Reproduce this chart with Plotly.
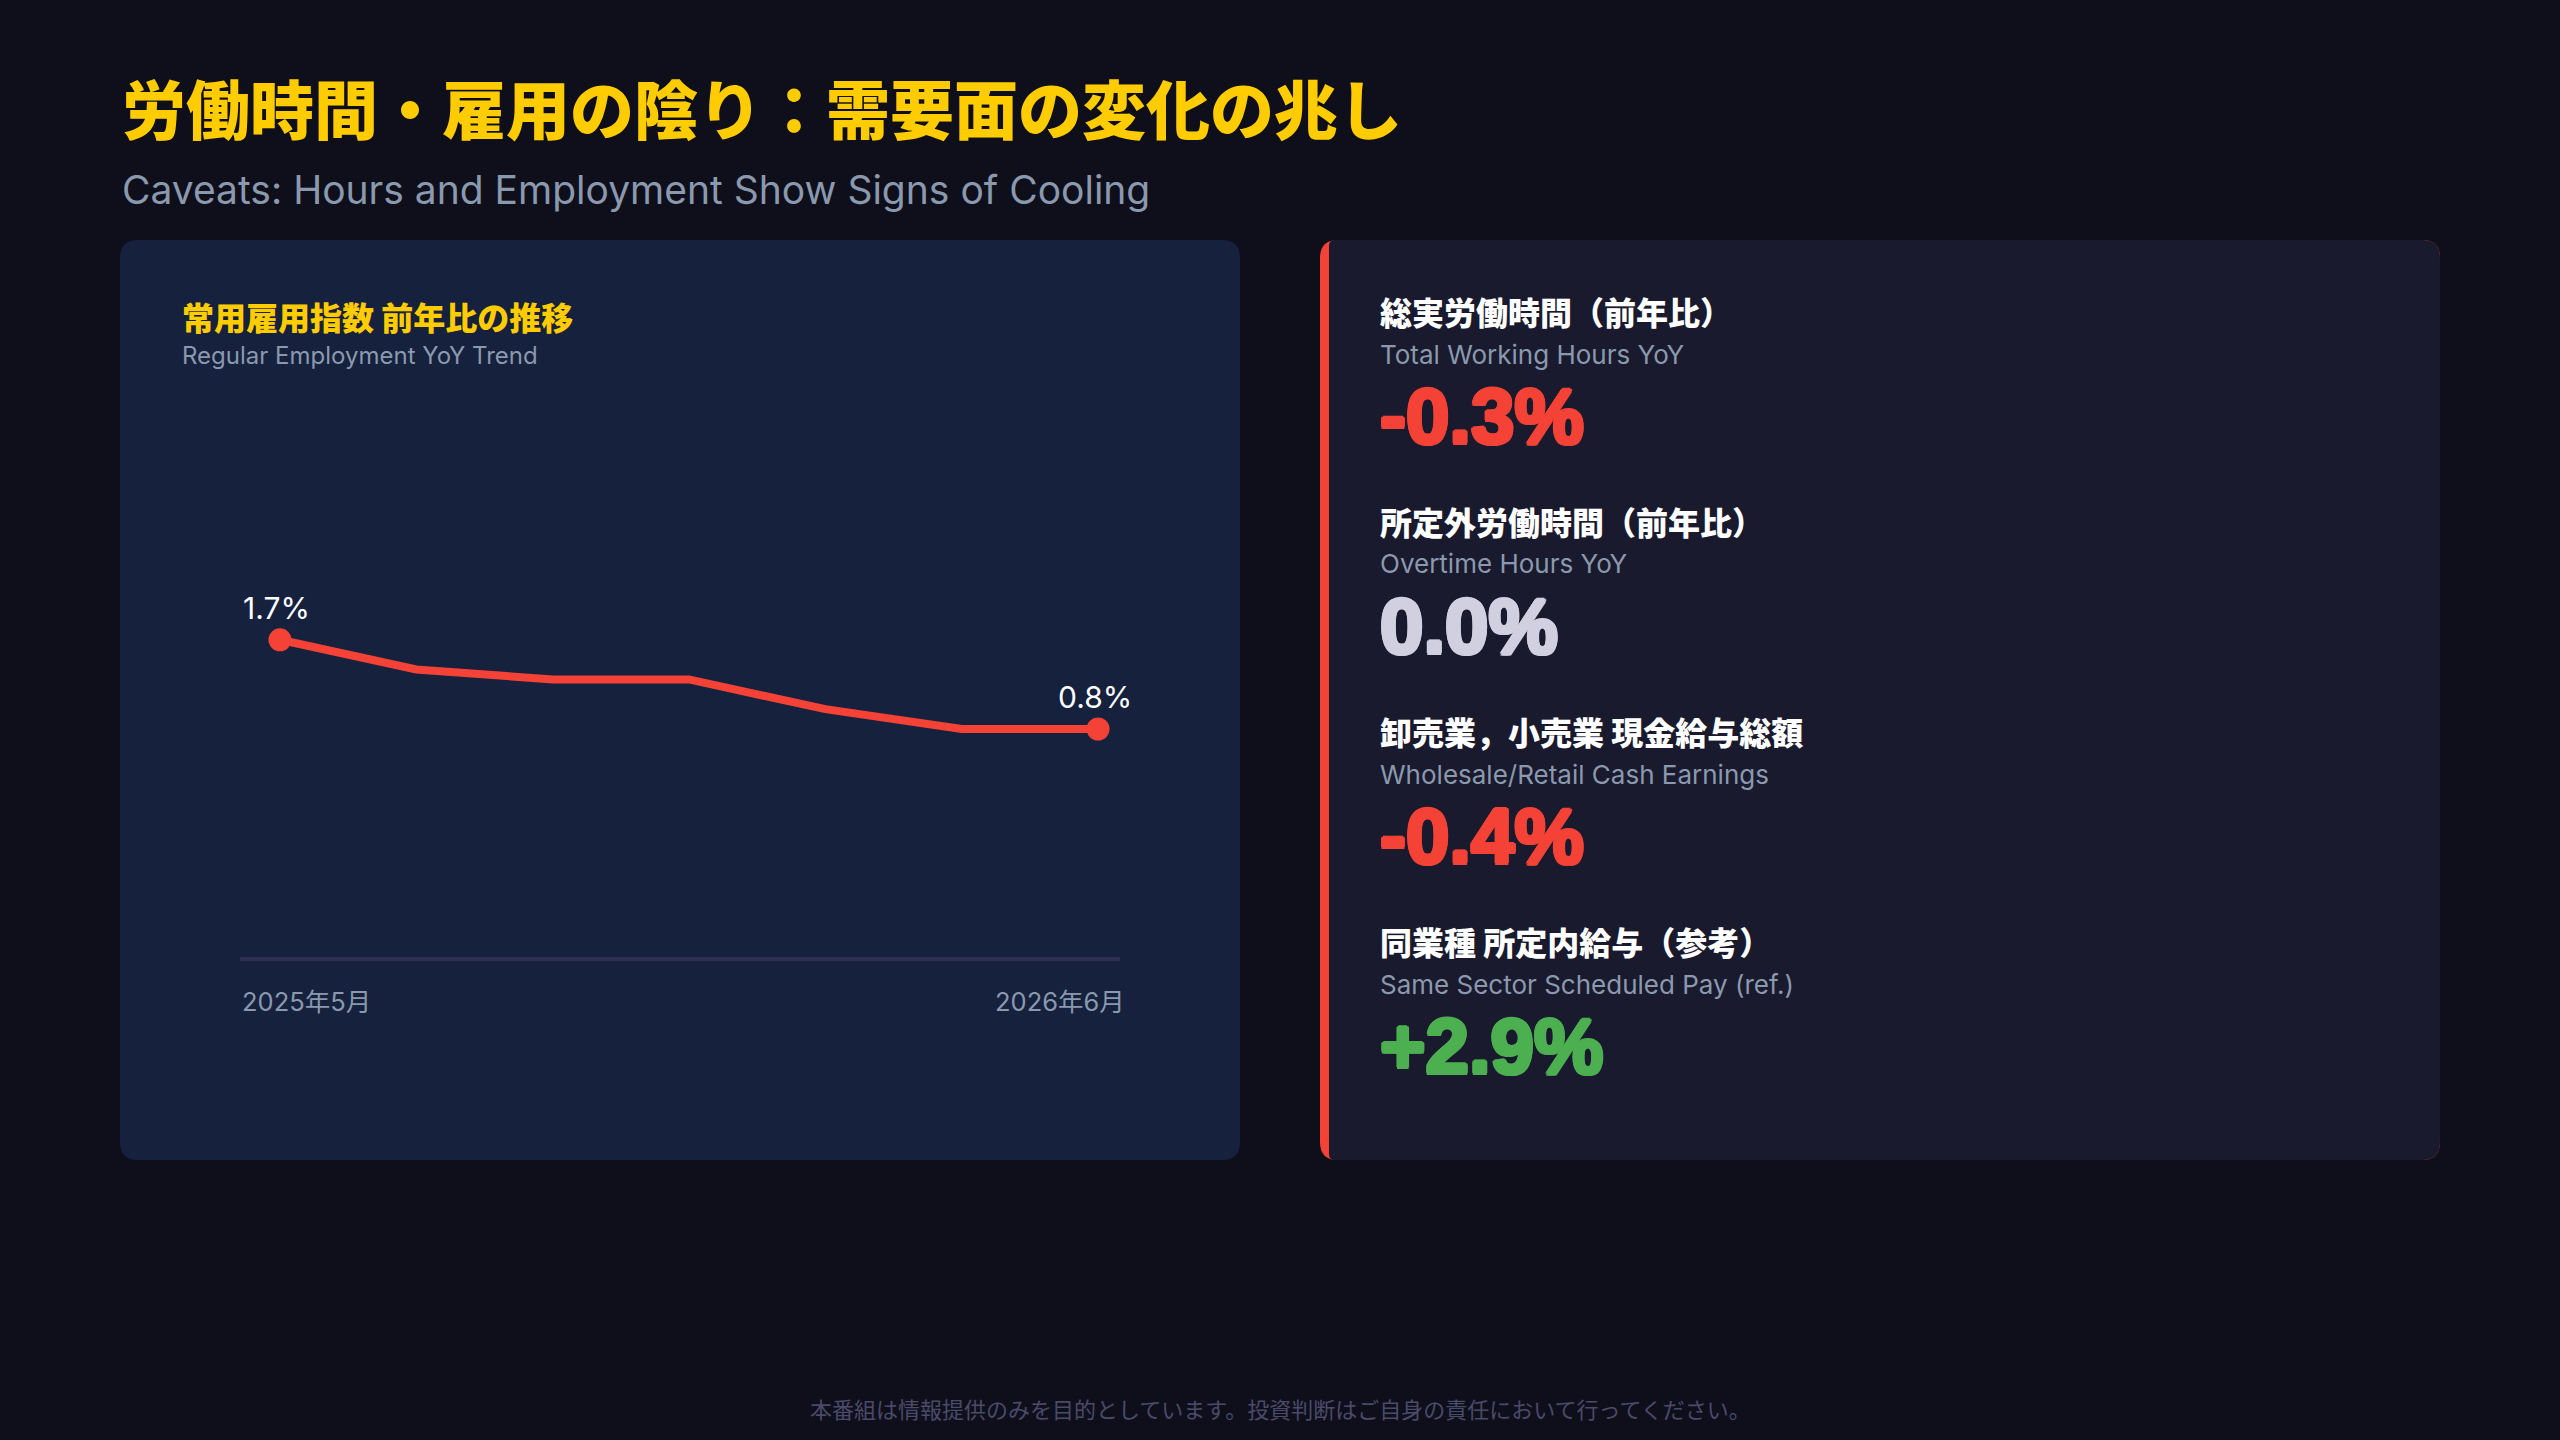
import plotly.graph_objects as go

# chart data
emp_yoy = [1.7, 1.4, 1.3, 1.3, 1.0, 0.8, 0.8]
axis_labels = ["2025年5月", "2026年6月"]

metric_titles_jp = ["総実労働時間（前年比）", "所定外労働時間（前年比）",
                    "卸売業，小売業 現金給与総額", "同業種 所定内給与（参考）"]
metric_titles_en = ["Total Working Hours YoY", "Overtime Hours YoY",
                    "Wholesale/Retail Cash Earnings", "Same Sector Scheduled Pay (ref.)"]
metric_values = [-0.3, 0.0, -0.4, 2.9]

W, H = 2560, 1440
BG = "#0f0f1c"
YELLOW = "#ffcc00"
RED = "#f44336"
GREEN = "#4caf50"
NEUTRAL = "#d0d0e0"
GRAY = "#8a99ad"
JP = "Noto Sans CJK JP"
EN = "Inter, Noto Sans CJK JP"
NUM = "Liberation Sans, Arial, sans-serif"


def px(x):
    return x / W


def py(y):
    return 1 - y / H


# rounded rectangle as an svg path in paper units
def round_rect(x0, y0, x1, y1, r, rl=None):
    rl = r if rl is None else rl
    p = lambda x, y: f"{px(x):.5f},{py(y):.5f}"
    return (f"M {p(x0 + rl, y0)} L {p(x1 - r, y0)} Q {p(x1, y0)} {p(x1, y0 + r)} "
            f"L {p(x1, y1 - r)} Q {p(x1, y1)} {p(x1 - r, y1)} "
            f"L {p(x0 + rl, y1)} Q {p(x0, y1)} {p(x0, y1 - rl)} "
            f"L {p(x0, y0 + rl)} Q {p(x0, y0)} {p(x0 + rl, y0)} Z")


fig = go.Figure()

n = len(emp_yoy)
fig.add_trace(go.Scatter(
    x=list(range(n)), y=emp_yoy, mode="lines",
    line=dict(color=RED, width=8),
    hoverinfo="skip", showlegend=False,
))
# end point dots
fig.add_trace(go.Scatter(
    x=[0, n - 1], y=[emp_yoy[0], emp_yoy[-1]], mode="markers",
    marker=dict(color=RED, size=23, line=dict(width=0)),
    hoverinfo="skip", showlegend=False,
))

shapes = [
    dict(type="path", path=round_rect(120, 240, 1240, 1160, 18),
         xref="paper", yref="paper", fillcolor="#16213d", line_width=0, layer="below"),
    dict(type="path", path=round_rect(1320, 240, 2440, 1160, 18),
         xref="paper", yref="paper", fillcolor=RED, line_width=0, layer="below"),
    dict(type="path", path=round_rect(1329, 240, 2440, 1160, 18, rl=6),
         xref="paper", yref="paper", fillcolor="#1a1a2e", line_width=0, layer="below"),
]

ann = []


def text(x, y, s, size, color, family=EN, weight=400, xanchor="left", shadow=None):
    font = dict(size=size, color=color, family=family, weight=weight)
    if shadow:
        font["shadow"] = shadow
    ann.append(dict(x=px(x), y=py(y), xref="paper", yref="paper", text=s,
                    showarrow=False, xanchor=xanchor, yanchor="middle", font=font))


text(120, 106, "労働時間・雇用の陰り：需要面の変化の兆し", 64, YELLOW, JP, 900)
text(120, 190, "Caveats: Hours and Employment Show Signs of Cooling", 39, GRAY)
text(180, 316, "常用雇用指数 前年比の推移", 32, YELLOW, JP, 900)
text(180, 355, "Regular Employment YoY Trend", 24, GRAY)
text(240, 1001, axis_labels[0], 25.5, GRAY)
text(1127, 1001, axis_labels[1], 25.5, GRAY, xanchor="right")

# endpoint value labels
for i in (0, n - 1):
    ann.append(dict(x=i, y=emp_yoy[i], xref="x", yref="y", text=f"{emp_yoy[i]:.1f}%",
                    showarrow=False, yshift=32, xshift=-3,
                    font=dict(size=30, color="#ffffff", family=EN)))

# metric cards on the right
for k, (jp, en, v) in enumerate(zip(metric_titles_jp, metric_titles_en, metric_values)):
    top = 311 + k * 210
    color = RED if v < 0 else (GREEN if v > 0 else NEUTRAL)
    label = f"+{v:.1f}%" if v > 0 else f"{v:.1f}%"
    thick = ", ".join(f"{dx}px {dy}px 0 {color}" for dx, dy in
                      [(2, 0), (-2, 0), (0, 2), (0, -2), (1.5, 1.5), (-1.5, -1.5), (1.5, -1.5), (-1.5, 1.5)])
    text(1378, top, jp, 32, "#ffffff", JP, 900)
    text(1378, top + 43, en, 26, GRAY)
    text(1378, top + 105, label, 78, color, NUM, 700, shadow=thick)

text(1280, 1408, "本番組は情報提供のみを目的としています。投資判断はご自身の責任において行ってください。",
     22, "#4a4a6a", JP, 400, xanchor="center")

fig.update_layout(
    width=W, height=H,
    margin=dict(l=0, r=0, t=0, b=0),
    paper_bgcolor=BG, plot_bgcolor="rgba(0,0,0,0)",
    shapes=shapes, annotations=ann,
    xaxis=dict(domain=[px(240), px(1120)], range=[-0.293, 6.161],
               showgrid=False, zeroline=False, showticklabels=False,
               showline=True, linecolor="#2e2e50", linewidth=4, fixedrange=True),
    yaxis=dict(domain=[py(957), py(501)], range=[-1.5, 3.1],
               showgrid=False, zeroline=False, showticklabels=False, fixedrange=True),
)

fig.write_html("out.html", config={"displayModeBar": False},
               post_script="document.body.style.margin='0';document.body.style.background='%s';" % BG)
